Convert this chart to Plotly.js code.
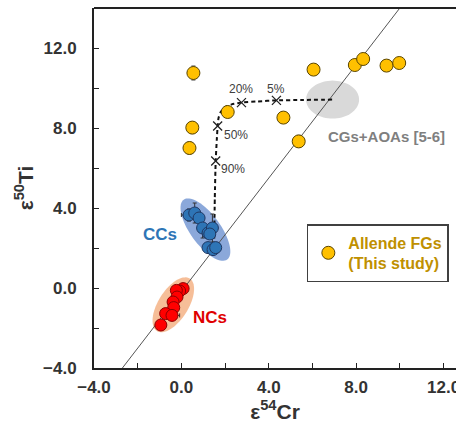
<!DOCTYPE html>
<html>
<head>
<meta charset="utf-8">
<script src="https://cdn.plot.ly/plotly-3.0.1.min.js"></script>
<style>
  html, body { margin: 0; padding: 0; background: #fff; overflow: hidden; }
  #chart { width: 476px; height: 426px; }
</style>
</head>
<body>
<div id="chart"></div>
<script>
// ---- Allende FGs (this study) ----
const fgX   = [0.55, 0.50, 0.37, 2.12, 4.67, 5.37, 6.05, 7.94, 8.32, 9.39, 9.97];
const fgY   = [10.75, 8.02, 7.00, 8.80, 8.52, 7.33, 10.92, 11.15, 11.45, 11.12, 11.25];
const fgErr = [0.35, 0.30, 0.30, 0.10, 0.10, 0.30, 0.20, 0.10, 0.15, 0.10, 0.10];

// ---- CCs ----
const ccX    = [0.35, 0.61, 0.81, 0.97, 1.22, 1.42, 1.30, 1.22, 1.45, 1.57];
const ccY    = [3.65, 3.75, 3.50, 3.00, 2.75, 3.00, 2.70, 2.02, 1.92, 2.02];
const ccErrY = [0.30, 0.50, 0.20, 0.50, 0.20, 0.70, 0.20, 0.10, 0.10, 0.10];
const ccErrX = [0.35, 0.10, 0.10, 0.10, 0.10, 0.10, 0.10, 0.10, 0.10, 0.10];

// ---- NCs ----
const ncX    = [0.08, -0.08, -0.23, -0.20, -0.38, -0.35, -0.72, -0.43, -0.94];
const ncY    = [-0.03, -0.15, -0.12, -0.45, -0.70, -0.98, -1.28, -1.37, -1.85];
const ncErrX = [0.10, 0.10, 0.10, 0.10, 0.10, 0.10, 0.10, 0.35, 0.10];

// ---- reference line ----
const refX = [-2.7, 10.0];
const refY = [-4.0, 14.0];

// ---- mixing curve ----
const mixX = [1.50, 1.53, 1.57, 1.62, 1.66, 1.70, 1.80, 2.00, 2.30, 2.75, 3.50, 4.35, 5.50, 6.90];
const mixY = [2.10, 4.50, 6.35, 7.40, 8.10, 8.50, 8.80, 9.05, 9.18, 9.27, 9.33, 9.38, 9.40, 9.42];
const mixMarkX = [1.57, 1.66, 2.75, 4.35];
const mixMarkY = [6.35, 8.10, 9.27, 9.38];
const mixLabels = ['90%', '50%', '20%', '5%'];
const mixLabelX = [2.37, 2.52, 2.75, 4.32];
const mixLabelY = [5.97, 7.63, 9.97, 9.97];

// ---- ellipses: [cx, cy, semi-major px, semi-minor px, angle deg] ----
const ellCC  = [1.10, 2.92, 37, 15, -54];
const ellNC  = [-0.37, -0.84, 31, 15, 58];
const ellCG  = [6.92, 9.42, 26.5, 19, 0];

const xRange = [-4, 12.57];
const yRange = [-4, 14];

const W = 476, H = 426;
const M = {l: 94, r: 20, t: 8, b: 58};
const kx = (W - M.l - M.r) / (xRange[1] - xRange[0]);
const ky = (H - M.t - M.b) / (yRange[1] - yRange[0]);

function ellipsePath(e) {
  const [cx, cy, a, b, ang] = e;
  const th = ang * Math.PI / 180;
  let p = '';
  const n = 72;
  for (let i = 0; i <= n; i++) {
    const t = 2 * Math.PI * i / n;
    const dx = a * Math.cos(t) * Math.cos(th) - b * Math.sin(t) * Math.sin(th);
    const dy = a * Math.cos(t) * Math.sin(th) + b * Math.sin(t) * Math.cos(th);
    p += (i === 0 ? 'M ' : ' L ') + (cx + dx / kx).toFixed(4) + ',' + (cy + dy / ky).toFixed(4);
  }
  return p + ' Z';
}

const traces = [
  {x: refX, y: refY, mode: 'lines', line: {color: '#555', width: 1}, showlegend: false, hoverinfo: 'skip'},
  {x: mixX, y: mixY, mode: 'lines', line: {color: '#111', width: 2, dash: '4px,3px', shape: 'spline', smoothing: 0.6}, showlegend: false, hoverinfo: 'skip'},
  {x: mixMarkX, y: mixMarkY, mode: 'markers', marker: {symbol: 'x-thin', size: 9, line: {color: '#222', width: 1.3}}, showlegend: false},
  {x: ncX, y: ncY, mode: 'markers', showlegend: false,
   error_x: {type: 'data', array: ncErrX, color: '#333', thickness: 1, width: 2},
   marker: {color: '#FF0000', size: 12, line: {color: '#8B0000', width: 1}}},
  {x: ccX, y: ccY, mode: 'markers', showlegend: false,
   error_x: {type: 'data', array: ccErrX, color: '#333', thickness: 1, width: 2},
   error_y: {type: 'data', array: ccErrY, color: '#333', thickness: 1, width: 2},
   marker: {color: '#2E75B6', size: 12, line: {color: '#1F3864', width: 1}}},
  {x: fgX, y: fgY, mode: 'markers', name: 'Allende FGs<br>(This study)',
   error_y: {type: 'data', array: fgErr, color: '#444', thickness: 1, width: 2},
   marker: {color: '#FFC000', size: 13, line: {color: '#5a4500', width: 1}}}
];

const annotations = [
  {x: -0.99, y: 2.69, text: 'CCs', showarrow: false, font: {family: 'Liberation Sans, Arial', size: 17, color: '#2E75B6', weight: 'bold'}},
  {x: 1.30, y: -1.47, text: 'NCs', showarrow: false, font: {family: 'Liberation Sans, Arial', size: 17, color: '#E00000', weight: 'bold'}},
  {x: 9.39, y: 7.59, text: 'CGs+AOAs [5-6]', showarrow: false, font: {family: 'Liberation Sans, Arial', size: 15, color: '#7F7F7F', weight: 'bold'}}
];
for (let i = 0; i < mixLabels.length; i++) {
  annotations.push({x: mixLabelX[i], y: mixLabelY[i], text: mixLabels[i], showarrow: false,
    font: {family: 'Liberation Sans, Arial', size: 12, color: '#404040'}});
}

const tickFont = {family: 'Liberation Sans, Arial', size: 17, color: '#333', weight: 'bold'};
const titleFont = {family: 'Liberation Sans, Arial', size: 21, color: '#333', weight: 'bold'};

const layout = {
  width: W, height: H,
  margin: M,
  paper_bgcolor: '#fff', plot_bgcolor: '#fff',
  showlegend: true,
  legend: {x: 0.588, y: 0.40, xanchor: 'left', yanchor: 'top',
    bgcolor: '#fff', bordercolor: '#404040', borderwidth: 1.5,
    font: {family: 'Liberation Sans, Arial', size: 16, color: '#BF9000', weight: 'bold'}},
  xaxis: {range: xRange, dtick: 4, tick0: 0, tickformat: '.1f', showgrid: false, zeroline: false,
    showline: true, linecolor: '#222', linewidth: 2, ticks: 'inside', ticklen: 5, tickcolor: '#222', tickwidth: 1,
    minor: {dtick: 2, ticks: 'inside', ticklen: 5, tickcolor: '#222', tickwidth: 1, showgrid: false},
    tickfont: tickFont, ticklabelstandoff: 3,
    title: {text: 'ε<sup>54</sup>Cr', font: titleFont, standoff: 8}},
  yaxis: {range: yRange, dtick: 4, tick0: 0, tickformat: '.1f', showgrid: false, zeroline: false,
    showline: true, linecolor: '#222', linewidth: 2, ticks: 'inside', ticklen: 5, tickcolor: '#222', tickwidth: 1,
    minor: {dtick: 2, ticks: 'inside', ticklen: 5, tickcolor: '#222', tickwidth: 1, showgrid: false},
    tickfont: tickFont, ticklabelstandoff: 12,
    title: {text: 'ε<sup>50</sup>Ti', font: titleFont, standoff: 4}},
  shapes: [
    {type: 'path', path: ellipsePath(ellCG), xref: 'x', yref: 'y', fillcolor: '#D9D9D9', line: {width: 0}, layer: 'below'},
    {type: 'path', path: ellipsePath(ellCC), xref: 'x', yref: 'y', fillcolor: 'rgba(68,114,196,0.62)', line: {width: 0}, layer: 'below'},
    {type: 'path', path: ellipsePath(ellNC), xref: 'x', yref: 'y', fillcolor: 'rgba(237,125,49,0.5)', line: {width: 0}, layer: 'below'},
    {type: 'line', xref: 'paper', yref: 'paper', x0: 0, x1: 1, y0: 1, y1: 1, line: {color: '#222', width: 2}}
  ],
  annotations: annotations
};

Plotly.newPlot('chart', traces, layout, {displayModeBar: false, staticPlot: true});
</script>
</body>
</html>
